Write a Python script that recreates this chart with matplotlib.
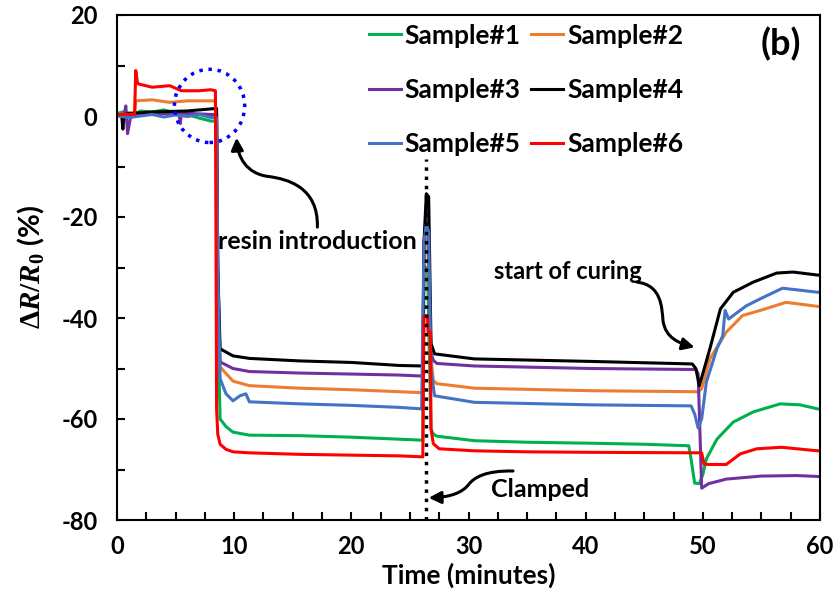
import matplotlib
matplotlib.use('Agg')
import matplotlib.pyplot as plt
from matplotlib.patches import Ellipse, FancyArrowPatch
from matplotlib.path import Path
from matplotlib.ticker import MultipleLocator

plt.rcParams['font.family'] = ['Lato', 'DejaVu Sans']
plt.rcParams['font.weight'] = 'bold'
plt.rcParams['axes.unicode_minus'] = False
plt.rcParams['mathtext.fontset'] = 'custom'
plt.rcParams['mathtext.rm'] = 'Liberation Serif:bold'
plt.rcParams['mathtext.it'] = 'Liberation Serif:bold:italic'
plt.rcParams['mathtext.bf'] = 'Liberation Serif:bold'

# valeurs (temps en minutes, dR/R0 en %)
t1 = [0, 0.5, 1, 1.6, 2, 3, 4, 5, 6, 7, 8, 8.5, 8.6, 8.8, 9.3, 9.9, 11.3, 15.6, 20, 24.1,
      26.1, 26.2, 26.5, 26.8, 27.0, 27.3, 30.5, 35, 40.5, 45, 48.8, 49.0, 49.3, 49.7,
      50.0, 50.3, 51.2, 52.6, 54.3, 56.6, 58.3, 59.8, 60]
v1 = [0.5, 0.8, 0.6, 0.5, 1.0, 0.8, 1.2, 0.6, 0.3, -0.4, -1.0, -1.0, -40, -60, -61.5, -62.6,
      -63.2, -63.3, -63.6, -64, -64.2, -30, -30, -62, -63, -63.4, -64.3, -64.6, -64.8, -65.0,
      -65.3, -68, -72.7, -72.8, -71, -67.9, -64, -60.6, -58.6, -57, -57.2, -58, -58]

t2 = [0, 1.5, 1.6, 3, 4.5, 6, 8.4, 8.5, 8.7, 8.8, 9.9, 11.3, 15.6, 20, 24.1, 26.1, 26.2,
      26.5, 26.8, 27.0, 27.3, 30.5, 40.5, 45, 49.6, 49.9, 50.6, 52, 53.4, 54.9, 57.1, 59.8, 60]
v2 = [0.3, 0.3, 3.0, 3.2, 2.7, 3.0, 3.0, -20, -45, -49.7, -52.5, -53.4, -53.9, -54.2, -54.6,
      -54.8, -25, -24, -48, -52.4, -53.0, -53.9, -54.4, -54.5, -54.6, -54, -48.1, -42.8,
      -39.5, -38.5, -36.9, -37.7, -37.7]

t3 = [0, 0.6, 0.75, 0.9, 1.2, 3, 5.3, 5.4, 5.5, 8, 8.5, 8.6, 8.8, 9.9, 11.3, 15.6, 20, 24.1,
      26.1, 26.2, 26.5, 26.8, 27.0, 27.3, 30.5, 40.5, 49.4, 49.6, 49.9, 50.5, 52, 55, 58, 60]
v3 = [0.2, 0, 2.0, -3.5, 0.3, 0.5, 0.5, -1.5, 0.6, 0.3, 0.3, -30, -48.7, -50.0, -50.6, -50.9,
      -51.1, -51.3, -51.5, -25, -17, -47, -48.4, -49.0, -49.5, -50.0, -50.2, -51, -73.7,
      -72.8, -71.9, -71.3, -71.2, -71.4]

t4 = [0, 0.4, 0.5, 0.6, 1, 3, 6, 8, 8.5, 8.6, 8.8, 9.9, 11.3, 15.6, 20, 24.1, 26.1, 26.2,
      26.4, 26.6, 26.8, 27.1, 30.5, 40.5, 49.1, 49.4, 49.7, 50.0, 50.6, 51.5, 52.6, 54.3,
      56.3, 57.7, 59.8, 60]
v4 = [0.2, 0.2, -2.6, 0.2, 0.5, 0.8, 1.0, 1.4, 1.5, -30, -46.1, -47.5, -48.0, -48.5, -48.8,
      -49.4, -49.5, -25, -15.4, -16, -45, -47.1, -48.1, -48.6, -49.1, -50, -53.4, -51,
      -46.1, -38.2, -34.9, -32.9, -31.1, -30.9, -31.5, -31.5]

t5 = [0, 1, 2, 3, 4, 5, 6, 7, 8, 8.5, 8.6, 8.8, 9.3, 9.9, 10.5, 11, 11.3, 15.6, 20, 24.1,
      26.0, 26.2, 26.4, 26.6, 26.8, 27.1, 30.5, 40.5, 49.0, 49.3, 49.6, 49.9, 50.3, 51.2,
      51.7, 51.9, 52.2, 53.7, 54.9, 56.8, 59.8, 60]
v5 = [0, -0.3, 0, 0.3, -0.2, 0.2, -0.1, 0.3, -0.3, -0.3, -30, -52, -55, -56.4, -55.4, -55.0,
      -56.6, -57.0, -57.3, -57.7, -58, -25, -21.4, -23, -50, -55.4, -56.7, -57.2, -57.4,
      -59, -61.8, -60, -52.7, -46.1, -43.5, -38.5, -40.2, -37.6, -36.2, -34.1, -34.9, -34.9]

t6 = [0, 1.5, 1.6, 1.75, 1.9, 3, 4.5, 5.5, 7, 8.0, 8.4, 8.5, 8.6, 8.8, 9.3, 9.9, 11.3, 15.6,
      24.1, 26.1, 26.2, 26.5, 26.55, 26.75, 26.8, 27.0, 27.5, 30.5, 35, 40.5, 49.9, 50.1,
      50.4, 52, 53.2, 54.6, 56.7, 59.8, 60]
v6 = [0.3, 0.3, 9.0, 6.5, 6.3, 5.7, 6.0, 5.0, 5.0, 5.2, 5.0, -58, -63, -65, -66.0, -66.5,
      -66.7, -67.0, -67.3, -67.5, -39.6, -39.6, -42.8, -42.8, -62, -64.9, -65.9, -66.3,
      -66.5, -66.6, -66.7, -68.9, -69, -69, -66.9, -65.9, -65.6, -66.3, -66.3]

noms = ['Sample#1', 'Sample#2', 'Sample#3', 'Sample#4', 'Sample#5', 'Sample#6']
couleurs = ['#00B050', '#ED7D31', '#7030A0', '#000000', '#4472C4', '#FF0000']
temps = [t1, t2, t3, t4, t5, t6]
valeurs = [v1, v2, v3, v4, v5, v6]

fig = plt.figure(figsize=(8.35, 5.98), dpi=100)
ax = fig.add_axes([117/835, 1 - 520/598, 703/835, 505/598])

lignes = []
for t, v, c, n in zip(temps, valeurs, couleurs, noms):
    l, = ax.plot(t, v, color=c, lw=2.2, label=n, solid_joinstyle='round')
    lignes.append(l)

# ligne pointillee du serrage
ax.plot([26.4, 26.4], [-80, -8.5], color='black', ls=':', lw=2.5, zorder=5)

ax.set_xlim(0, 60)
ax.set_ylim(-80, 20)
ax.xaxis.set_major_locator(MultipleLocator(10))
ax.xaxis.set_minor_locator(MultipleLocator(2.5))
ax.yaxis.set_major_locator(MultipleLocator(20))
ax.yaxis.set_minor_locator(MultipleLocator(10))
ax.tick_params(which='both', direction='in', length=6, width=1.5)
ax.tick_params(axis='x', which='major', labelsize=17, pad=11)
ax.tick_params(axis='y', which='major', labelsize=17, pad=14)
for s in ax.spines.values():
    s.set_linewidth(1.5)

ax.set_xlabel('Time (minutes)', fontsize=19, fontweight='bold', labelpad=3)
ax.set_ylabel(r'$\Delta R/R_0$ (%)', fontsize=21, fontweight='bold', labelpad=10)

# legende sur 3 lignes, 2 colonnes
ordre = [0, 2, 4, 1, 3, 5]
ax.legend([lignes[i] for i in ordre], [noms[i] for i in ordre], ncol=2, frameon=False,
          loc='upper left', bbox_to_anchor=(0.325, 1.03), fontsize=19,
          handlelength=1.2, handletextpad=0.15, columnspacing=0.4, labelspacing=1.15)

ax.text(56.7, 14.3, '(b)', fontsize=26, fontweight='bold', ha='center', va='center')

# cercle pointille
ax.add_patch(Ellipse((7.9, 2.0), 6.0, 14.5, fill=False, ec='blue', ls=':', lw=2.5, zorder=6))

def fleche(points):
    codes = [Path.MOVETO] + [Path.CURVE4] * (len(points) - 1)
    p = FancyArrowPatch(path=Path(points, codes), arrowstyle='-|>', mutation_scale=18,
                        lw=2.2, color='black', zorder=6)
    ax.add_patch(p)

fleche([(17.1, -22.0), (17.2, -14), (14.5, -12.5), (13.0, -12.0),
        (11.0, -11.5), (10.3, -8), (10.2, -4.3)])
fleche([(44.4, -32.9), (46.5, -33.5), (46.5, -38), (46.6, -40.5),
        (46.8, -44), (48, -45), (49.3, -45.8)])
fleche([(33.8, -70.3), (31.5, -70.2), (30.5, -71.5), (30.0, -73.0),
        (29.5, -74.5), (28.5, -75.5), (26.6, -75.6)])

ax.text(17.1, -24.8, 'resin introduction', fontsize=18, fontweight='bold', ha='center', va='center')
ax.text(38.5, -30.7, 'start of curing', fontsize=17, fontweight='bold', ha='center', va='center')
ax.text(36.1, -73.9, 'Clamped', fontsize=18, fontweight='bold', ha='center', va='center')

fig.savefig('out.png', dpi=100)
